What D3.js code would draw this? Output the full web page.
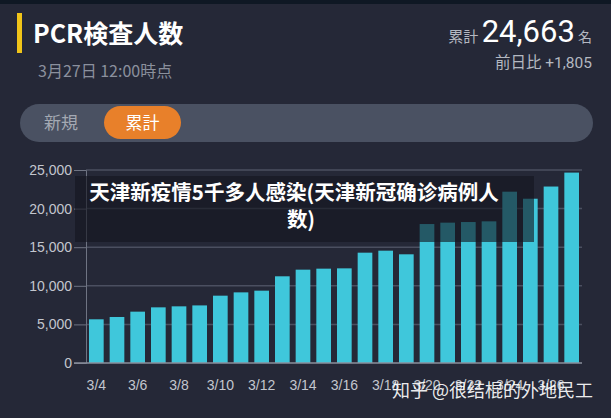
<!DOCTYPE html>
<html>
<head>
<meta charset="utf-8">
<script src="https://cdn.jsdelivr.net/npm/d3@7"></script>
<style>
  html, body { margin: 0; padding: 0; background: #252837; }
  svg { display: block; }
</style>
</head>
<body>
<div id="chart"></div>
<script>
(function(){
  const dates = ["3/4","3/5","3/6","3/7","3/8","3/9","3/10","3/11","3/12","3/13","3/14","3/15",
    "3/16","3/17","3/18","3/19","3/20","3/21","3/22","3/23","3/24","3/25","3/26","3/27"];
  const totals = [5660, 5960, 6650, 7210, 7340, 7460, 8720, 9150, 9370, 11230, 12090, 12220,
    12260, 14290, 14550, 14080, 18000, 18180, 18260, 18350, 22190, 21280, 22858, 24663];
  const yTicks = [0, 5000, 10000, 15000, 20000, 25000];
  const tabs = ["新規", "累計"];
  const bannerLines = ["天津新疫情5千多人感染(天津新冠确诊病例人", "数)"];

  const width = 611;
  const height = 418;
  const cjk = "'Noto Sans CJK JP', 'Noto Sans CJK SC', sans-serif";
  const num = "Roboto, 'Noto Sans CJK JP', sans-serif";

  const svg = d3.select("#chart")
    .append("svg")
    .attr("width", width)
    .attr("height", height);

  svg.append("rect").attr("width", width).attr("height", height).attr("fill", "#252837");
  svg.append("rect").attr("width", width).attr("height", 4).attr("fill", "#0f1824");

  // header
  svg.append("rect").attr("x", 17).attr("y", 13).attr("width", 5).attr("height", 40).attr("fill", "#f0c419");
  svg.append("text").attr("x", 33).attr("y", 43)
    .attr("font-family", cjk).attr("font-size", 25).attr("font-weight", 700)
    .attr("fill", "#ffffff").text("PCR検査人数");
  svg.append("text").attr("x", 38).attr("y", 77)
    .attr("font-family", cjk).attr("font-size", 16)
    .attr("fill", "#8b909d").text("3月27日 12:00時点");

  const total = totals[totals.length - 1];
  const diff = total - totals[totals.length - 2];
  const head = svg.append("text").attr("x", 592).attr("y", 42).attr("text-anchor", "end");
  head.append("tspan").attr("font-family", cjk).attr("font-size", 15).attr("fill", "#b4b8c1").text("累計 ");
  head.append("tspan").attr("font-family", num).attr("font-size", 31).attr("fill", "#ffffff").text(d3.format(",")(total));
  head.append("tspan").attr("font-family", cjk).attr("font-size", 14).attr("fill", "#b4b8c1").text(" 名");
  svg.append("text").attr("x", 592).attr("y", 68).attr("text-anchor", "end")
    .attr("font-family", num).attr("font-size", 15.5).attr("fill", "#b4b8c1")
    .text("前日比 +" + d3.format(",")(diff));

  // tabs
  svg.append("rect").attr("x", 20).attr("y", 104).attr("width", 573).attr("height", 38)
    .attr("rx", 19).attr("fill", "#4a5162");
  svg.append("rect").attr("x", 104).attr("y", 106).attr("width", 77).attr("height", 33)
    .attr("rx", 16.5).attr("fill", "#e8802a");
  svg.selectAll(".tab").data(tabs).enter().append("text")
    .attr("class", "tab")
    .attr("x", (d, i) => i === 0 ? 61 : 142.5)
    .attr("y", 129)
    .attr("text-anchor", "middle")
    .attr("font-family", cjk).attr("font-size", 17)
    .attr("fill", (d, i) => i === 0 ? "#a4a9b3" : "#ffffff")
    .text(d => d);

  // chart
  const x = d3.scaleBand()
    .domain(dates)
    .range([86, 582])
    .paddingInner(0.29)
    .paddingOuter(0.145);

  const y = d3.scaleLinear()
    .domain([0, 25000])
    .range([363, 170]);

  const grid = svg.append("g");
  grid.selectAll("line").data(yTicks.slice(1)).enter().append("line")
    .attr("x1", 86).attr("x2", 582)
    .attr("y1", d => y(d)).attr("y2", d => y(d))
    .attr("stroke", "#4b4f60").attr("stroke-width", 1.5);

  const yAxis = svg.append("g")
    .attr("transform", "translate(86,0)")
    .call(d3.axisLeft(y).tickValues(yTicks).tickFormat(d3.format(",")).tickSize(12).tickPadding(2));
  yAxis.select(".domain").attr("stroke", "#6f7483");
  yAxis.selectAll(".tick line").attr("stroke", "#6f7483");
  yAxis.selectAll(".tick text")
    .attr("font-family", "'Liberation Sans', Arial, sans-serif")
    .attr("font-size", 14).attr("fill", "#c3c6ce");

  svg.selectAll(".bar")
    .data(totals)
    .enter().append("rect")
    .attr("class", "bar")
    .attr("x", (d, i) => x(dates[i]))
    .attr("y", d => y(d))
    .attr("width", x.bandwidth())
    .attr("height", d => y(0) - y(d))
    .attr("fill", "#3fc7db");

  svg.append("line").attr("x1", 74).attr("x2", 582).attr("y1", 363).attr("y2", 363)
    .attr("stroke", "#8a8f9c").attr("stroke-width", 1.5);

  svg.selectAll(".xlab")
    .data(dates.filter((d, i) => i % 2 === 0))
    .enter().append("text")
    .attr("class", "xlab")
    .attr("x", d => x(d) + x.bandwidth() / 2)
    .attr("y", 390)
    .attr("text-anchor", "middle")
    .attr("font-family", "'Liberation Sans', Arial, sans-serif")
    .attr("font-size", 14).attr("fill", "#c3c6ce")
    .text(d => d);

  // overlay banner
  svg.append("rect").attr("x", 75).attr("y", 176).attr("width", 459).attr("height", 66)
    .attr("fill", "#14151f").attr("fill-opacity", 0.62);
  svg.selectAll(".banner").data(bannerLines).enter().append("text")
    .attr("class", "banner")
    .attr("x", (d, i) => i === 0 ? 294 : 301)
    .attr("y", (d, i) => i === 0 ? 200 : 227)
    .attr("text-anchor", "middle")
    .attr("font-family", "'Noto Sans CJK SC', sans-serif")
    .attr("font-size", 20.5).attr("font-weight", 700)
    .attr("fill", "#ffffff")
    .text(d => d);

  // watermark
  svg.append("text").attr("x", 593).attr("y", 397).attr("text-anchor", "end")
    .attr("font-family", "'Noto Sans CJK SC', sans-serif")
    .attr("font-size", 18).attr("fill", "#ffffff").attr("fill-opacity", 0.92)
    .text("知乎 @很结棍的外地民工");
})();
</script>
</body>
</html>
